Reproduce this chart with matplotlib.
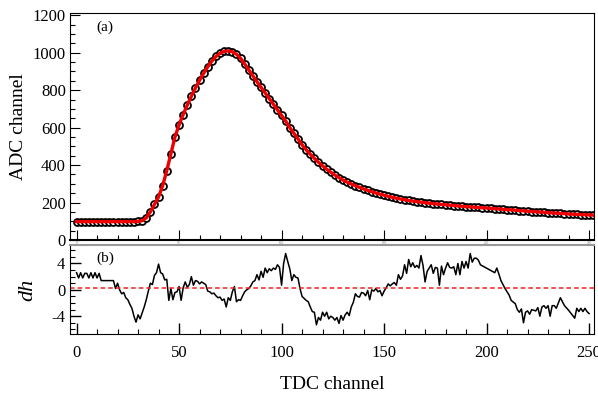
import matplotlib
matplotlib.use("Agg")
from matplotlib import pyplot as plt
from matplotlib.ticker import MultipleLocator

plt.rcParams['font.family'] = ['Liberation Serif', 'DejaVu Serif']
plt.rcParams['axes.unicode_minus'] = False

# panel (a): ADC vs TDC channel (every 2nd channel)
tdc = list(range(0, 256, 2))
adc = [98] * 15 + [
    99, 103, 118, 150, 190, 230, 290, 370, 460, 550,
    615, 670, 720, 768, 812, 852, 890, 925, 955, 980,
    997, 1007, 1010, 1005, 992, 970, 940, 908, 876, 845,
    815, 785, 755, 725, 695, 665, 635, 600, 570, 540,
    508, 482, 458, 436, 415, 396, 378, 362, 347, 333,
    320, 309, 299, 290, 281, 273, 265, 258, 251, 245,
    239, 233, 228, 223, 219, 215, 211, 208, 205, 202,
    199, 197, 194, 192, 190, 188, 186, 184, 182, 180,
    178, 177, 175, 174, 172, 171, 169, 167, 166, 164,
    162, 161, 159, 157, 156, 154, 152, 151, 149, 148,
    146, 145, 143, 142, 141, 139, 138, 137, 136, 135,
    134, 133, 132,
]
fit = adc

# panel (b): residuals dh
dh_x = list(range(0, 198)) + [204, 205, 206, 207, 209, 211, 212, 214, 215, 216,
                              217, 218, 219, 220, 221, 222, 224, 225, 226, 227,
                              228, 229, 230, 231, 232, 233, 234, 236, 238, 240,
                              243, 244, 245, 246, 247, 248, 249, 250]
dh = [
    2.6, 1.8, 2.6, 1.8, 2.5, 2.5, 1.8, 2.6, 1.8, 2.6, 1.8, 2.5, 1.4, 1.4, 1.4, 1.4, 1.4, 1.4, 1.4, 0.2,
    1.0, 0.0, -0.6, -0.4, -1.2, -1.5, -2.2, -2.8, -4.0, -4.9, -3.8, -4.4, -3.5, -2.6, -1.5, -0.2, 1.0, 0.8, 2.2, 2.6,
    3.9, 2.6, 2.4, 1.5, 1.6, -1.6, 0.2, -1.5, -0.4, -0.3, 0.5, -1.6, 0.3, 1.2, 0.4, 0.8, 2.0, 0.7, 1.4, 1.3,
    0.9, 1.2, 1.0, 0.8, -0.2, -0.3, -0.6, -0.5, -0.9, -1.2, -1.1, -1.6, -1.4, -2.6, -1.2, -1.6, -0.3, 0.5, -1.8, -1.5,
    -1.6, -0.9, -0.3, 0.0, 0.2, 0.6, 1.2, 1.4, 2.3, 1.5, 2.8, 1.9, 3.3, 2.6, 3.2, 2.9, 3.3, 3.1, 3.8, 3.4,
    0.7, 4.0, 5.5, 4.3, 3.2, 1.4, 2.3, 1.9, 1.8, 0.2, -1.0, -1.3, -1.6, -1.8, -2.6, -3.3, -3.4, -5.3, -4.2, -4.6,
    -3.4, -4.0, -3.4, -4.4, -4.0, -4.2, -4.6, -4.2, -5.1, -3.9, -4.6, -3.8, -3.4, -3.9, -2.6, -1.9, -0.6, -1.0, -1.1, -0.4,
    -0.5, -0.9, -0.1, -1.5, 0.0, -0.2, 0.2, -0.3, -0.1, -0.9, -0.2, 0.3, 0.9, 0.6, 0.9, 1.1, 0.7, 2.3, 1.6, 2.1,
    3.8, 2.5, 4.6, 3.5, 4.1, 3.4, 3.7, 3.3, 5.2, 3.7, 1.2, 2.8, 3.3, 3.8, 2.5, 3.4, 3.3, 0.7, 3.6, 2.3,
    3.3, 4.1, 3.4, 3.3, 3.5, 2.3, 4.0, 2.3, 4.3, 3.3, 4.3, 3.3, 5.5, 4.2, 4.8, 4.8, 4.5, 3.8,
    2.6, 3.3, 2.4, 1.4, 0.2, -0.8, -1.6, -2.1, -3.0, -3.4,
    -2.9, -5.0, -3.4, -3.2, -3.7, -3.0, -3.2, -2.7, -4.0, -2.6,
    -2.4, -2.8, -2.4, -4.0, -2.4, -2.4, -2.8, -1.2, -2.4, -3.1,
    -4.3, -2.8, -3.3, -2.8, -3.3, -2.8, -3.3, -3.6,
]
dh_ref = 0.3

W, H = 598, 394
fig = plt.figure(figsize=(W / 100, H / 100), dpi=100)
ax1 = fig.add_axes([70 / W, 1 - 240 / H, 524 / W, 227 / H])
ax2 = fig.add_axes([70 / W, 1 - 334 / H, 524 / W, 89 / H], sharex=ax1)

ax1.plot(tdc, adc, 'o', ms=5, mfc='white', mec='black', mew=1.3, zorder=2)
ax1.plot(tdc, fit, '-', color='#ee0000', lw=2.4, zorder=3)
ax1.set_xlim(-3.2, 252.4)
ax1.set_ylim(0, 1212)
ax1.set_ylabel('ADC channel', fontsize=14, labelpad=4)
ax1.text(0.05, 0.965, '(a)', transform=ax1.transAxes, fontsize=11, va='top')
ax1.yaxis.set_major_locator(MultipleLocator(200))
ax1.yaxis.set_minor_locator(MultipleLocator(50))
ax1.xaxis.set_major_locator(MultipleLocator(50))
ax1.xaxis.set_minor_locator(MultipleLocator(10))
ax1.tick_params(axis='both', which='major', direction='in', length=7, width=0.8,
                labelsize=12, top=False, right=False)
ax1.tick_params(axis='both', which='minor', direction='in', length=3.5, width=0.8,
                top=False, right=False)
ax1.tick_params(axis='x', labelsize=2.5, pad=0.5, labelcolor='#777777')
ax1.tick_params(axis='y', pad=3)
for s in ax1.spines.values():
    s.set_linewidth(0.8)
ax1.spines['bottom'].set_linewidth(1.5)

ax2.plot(dh_x, dh, '-', color='black', lw=1.1)
ax2.axhline(dh_ref, color='#ee2222', lw=1.1, ls=(0, (3, 2)))
ax2.set_ylim(-6.7, 6.8)
ax2.set_ylabel('dh', fontsize=16, style='italic', labelpad=10)
ax2.text(0.05, 0.93, '(b)', transform=ax2.transAxes, fontsize=11, va='top')
ax2.yaxis.set_major_locator(MultipleLocator(4))
ax2.yaxis.set_minor_locator(MultipleLocator(1))
ax2.tick_params(axis='both', which='major', direction='in', length=8, width=1.0,
                labelsize=12, top=False, right=False)
ax2.tick_params(axis='both', which='minor', direction='in', length=3.5, width=0.8,
                top=False, right=False)
ax2.tick_params(axis='x', pad=8)
for s in ax2.spines.values():
    s.set_linewidth(0.8)
ax2.spines['top'].set_color('#999999')
ax2.spines['top'].set_linewidth(1.5)
ax2.set_xlabel('TDC channel', fontsize=14, labelpad=11)

fig.savefig('out.png', dpi=100)
